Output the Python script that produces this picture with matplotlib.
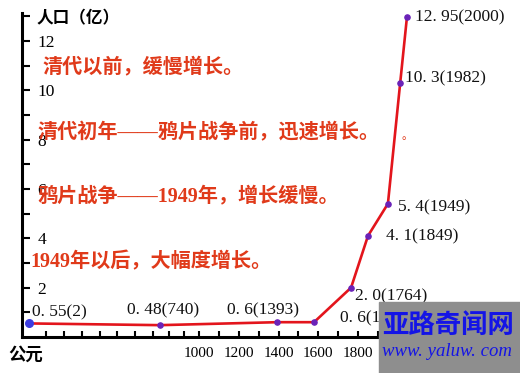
import numpy as np
import matplotlib.pyplot as plt
from matplotlib.patches import Rectangle

# 中国人口（亿）与年份
years = [2, 740, 1393, 1578, 1764, 1849, 1949, 1982, 2000]
pops = [0.55, 0.48, 0.6, 0.6, 2.0, 4.1, 5.4, 10.3, 12.95]
labels = ['0. 55(2)', '0. 48(740)', '0. 6(1393)', '0. 6(1578)', '2. 0(1764)',
          '4. 1(1849)', '5. 4(1949)', '10. 3(1982)', '12. 95(2000)']
x_ticks = [1000, 1200, 1400, 1600, 1800]
y_ticks = [2, 4, 6, 8, 10, 12]

notes = ['清代以前，缓慢增长。',
         '清代初年——鸦片战争前，迅速增长。',
         '鸦片战争——1949年，增长缓慢。',
         '1949年以后，大幅度增长。']

# 横轴不是等距的：早期压缩，1949年以后拉开
YEAR_BP = [-400, 2, 740, 1000, 1949, 2000, 2400]
POS_BP = [-42.4, 29, 160, 199, 388, 407, 556]


def fwd(v):
    return np.interp(v, YEAR_BP, POS_BP)


def inv(p):
    return np.interp(p, POS_BP, YEAR_BP)


W, H = 520, 373
fig = plt.figure(figsize=(W / 100, H / 100), dpi=100)
ax = fig.add_axes([22 / W, 36 / H, 408 / W, 324 / H])
ax.set_xscale('function', functions=(fwd, inv))
ax.set_xlim(-37, 2062)
ax.set_ylim(0, 13.13)

for s in ['top', 'right']:
    ax.spines[s].set_visible(False)
for s in ['left', 'bottom']:
    ax.spines[s].set_linewidth(2.2)

ax.set_xticks(x_ticks)
ax.set_xticks(range(100, 2000, 100), minor=True)
ax.set_yticks(y_ticks)
ax.set_yticks(range(1, 14, 2), minor=True)
ax.tick_params(axis='both', which='both', direction='in', width=1.5)
ax.tick_params(axis='x', which='both', length=4.5, pad=7, labelsize=11)
ax.tick_params(axis='y', which='both', length=6, pad=-11, labelsize=12.5)
for t in ax.get_yticklabels():
    t.set_ha('left')
    t.set_fontfamily('Liberation Serif')
for t in ax.get_xticklabels():
    t.set_fontfamily('Liberation Serif')

# 曲线和数据点
ax.plot(years, pops, color='#e3151c', lw=1.9, solid_joinstyle='round',
        solid_capstyle='round', zorder=3)
ax.scatter(years[1:], pops[1:], s=14, color='#6a22b8', zorder=4)
ax.scatter(years[:1], pops[:1], s=30, color='#3c3ce0', zorder=4)

offsets = [(3, 11), (-33, 15), (-50, 12), (26, 4), (4, -9),
           (18, -1), (10, -4), (5, 4), (8, 0)]
for yr, p, lab, off in zip(years, pops, labels, offsets):
    ax.annotate(lab, (yr, p), xytext=off, textcoords='offset pixels',
                ha='left', va='center', fontsize=12.5,
                family='Liberation Serif', color='#111111',
                annotation_clip=False, zorder=5)

# 红色说明文字
cjk = ['Liberation Serif', 'Noto Sans CJK SC']
note_pos = [(42, 67), (37, 133), (37, 196), (30, 262)]
for txt, (px, py) in zip(notes, note_pos):
    fig.text(px / W, 1 - py / H, txt, family=cjk, fontsize=14.5,
             fontweight='bold', color='#e03a1a', va='center', ha='left', zorder=6)
fig.text(402 / W, 1 - 137 / H, '。', family=cjk, fontsize=8,
         color='#e03a1a', va='center', ha='left')

fig.text(37 / W, 1 - 18 / H, '人口（亿）', family='Noto Sans CJK SC',
         fontsize=12, fontweight='bold', va='center', ha='left')
fig.text(8 / W, 1 - 355 / H, '公元', family='Noto Sans CJK SC',
         fontsize=12.5, fontweight='bold', va='center', ha='left')

# 右下角水印
fig.patches.append(Rectangle((379 / W, 0), (W - 379) / W, 71 / H,
                             transform=fig.transFigure, color='#8e8e8e',
                             zorder=10))
fig.text(382 / W, 1 - 325 / H, '亚路奇闻网', family='Noto Sans CJK SC',
         fontsize=19, fontweight='bold', color='#1414e6', va='center',
         ha='left', zorder=11)
fig.text(382 / W, 1 - 352 / H, 'www. yaluw. com', family='Liberation Serif',
         style='italic', fontsize=13.5, color='#1414e6', va='center',
         ha='left', zorder=11)

fig.savefig('out.png', dpi=100, facecolor='white')
